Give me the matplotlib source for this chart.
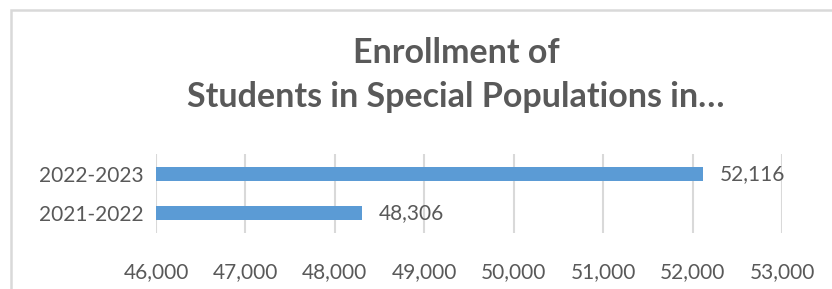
import matplotlib
matplotlib.use("Agg")
import matplotlib.pyplot as plt
from matplotlib.ticker import FuncFormatter, MultipleLocator
from matplotlib.patches import Rectangle

categories = ["2021-2022", "2022-2023"]
values = [48306, 52116]
title = "Enrollment of\nStudents in Special Populations in…"

plt.rcParams['font.family'] = ['Lato', 'DejaVu Sans']
text_color = "#595959"
grid_color = "#d9d9d9"
bar_color = "#5b9bd5"

fig = plt.figure(figsize=(8.32, 2.89), dpi=100)
ax = fig.add_axes([156/832, 1-233/289, (782-156)/832, (233-154)/289])

y = list(range(len(categories)))
ax.barh(y, [v - 46000 for v in values], left=46000, height=0.35, color=bar_color, zorder=3)
ax.set_xlim(46000, 53000)
ax.set_ylim(-0.5, 1.5)
ax.set_yticks(y)
ax.set_yticklabels(categories)
ax.xaxis.set_major_locator(MultipleLocator(1000))
ax.xaxis.set_major_formatter(FuncFormatter(lambda v, p: f"{int(v):,}"))
ax.grid(axis='x', color=grid_color, linewidth=1.5, zorder=0)
for s in ax.spines.values():
    s.set_visible(False)
ax.tick_params(axis='both', length=0, labelsize=15, colors=text_color)
ax.tick_params(axis='x', pad=21)
ax.tick_params(axis='y', pad=9)

for yi, v in zip(y, values):
    ax.annotate(f"{v:,}", (v, yi), xytext=(17, 0), textcoords='offset pixels',
                va='center', ha='left', fontsize=15, color=text_color)

fig.text(456/832, 1-75/289, title, ha='center', va='center', fontsize=24.5,
         fontweight='bold', color=text_color, linespacing=1.45)

fig.patches.append(Rectangle((10.5/832, -0.1), 2, 1.1 - 10.5/289, transform=fig.transFigure,
                             fill=False, edgecolor=grid_color, linewidth=1.8))

fig.savefig("out.png", dpi=100)
